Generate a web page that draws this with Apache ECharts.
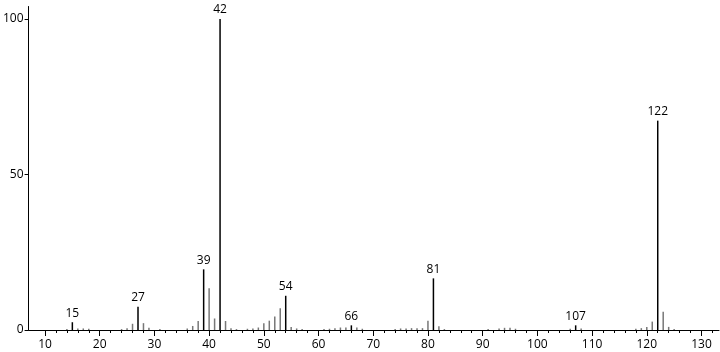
<!DOCTYPE html>
<html>
<head>
<meta charset="utf-8">
<script src="https://cdn.jsdelivr.net/npm/echarts@6/dist/echarts.min.js"></script>
<style>html,body{margin:0;padding:0;background:#fff}#c{width:720px;height:352px}</style>
</head>
<body>
<div id="c"></div>
<script>
const masses = [14,16,17,18,24,25,26,27,28,29,31,36,37,38,39,40,41,42,43,44,45,47,48,49,50,51,52,53,54,55,56,57,61,62,63,64,65,66,67,68,74,75,76,77,78,79,80,81,82,83,91,93,94,95,96,106,107,108,118,119,120,121,122,123,124,125];
const intensities = [0.3,0.5,0.5,0.4,0.3,0.6,2,7.5,2.2,0.7,0.3,0.5,1.3,2.9,19.5,13.4,3.7,100,2.9,0.6,0.3,0.4,0.5,0.8,2.2,3,4.3,7,11,1,0.5,0.3,0.3,0.4,0.6,0.8,0.8,1.5,0.8,0.4,0.3,0.5,0.5,0.6,0.6,0.6,3,16.6,1.2,0.3,0.3,0.5,0.7,0.7,0.4,0.4,1.5,0.5,0.4,0.6,1.0,2.7,67.3,5.9,1,0.3];
const labeledPeaks = [15,27,39,42,54,66,81,107,122];
const labeledValues = [2.5,7.5,19.5,100,11,1.5,16.6,1.5,67.3];
const xLabels = [10,20,30,40,50,60,70,80,90,100,110,120,130];
const xMinorTicks = [12,14,16,18,22,24,26,28,32,34,36,38,42,44,46,48,52,54,56,58,62,64,66,68,72,74,76,78,82,84,86,88,92,94,96,98,102,104,106,108,112,114,116,118,122,124,126,128,132];
const yLabels = [0,50,100];

// merge: labeled peaks override
const peaks = [];
masses.forEach((m,i)=>{ if(!labeledPeaks.includes(m)) peaks.push([m,intensities[i],0]); });
labeledPeaks.forEach((m,i)=>peaks.push([m,labeledValues[i],1]));

const font = '"Open Sans", "DejaVu Sans", sans-serif';
const chart = echarts.init(document.getElementById('c'), null, {renderer:'canvas'});
chart.setOption({
  animation:false,
  backgroundColor:'#fff',
  grid:{left:27, right:1, top:6.5, bottom:22, containLabel:false},
  xAxis:[{
    type:'value', min:7, max:133.2,
    axisLine:{show:true, lineStyle:{color:'#000', width:1}},
    axisTick:{show:true, customValues:xLabels, length:6, lineStyle:{color:'#000'}},
    axisLabel:{show:true, customValues:xLabels, color:'#000', fontSize:12, fontFamily:font, margin:9},
    splitLine:{show:false}
  },{
    type:'value', min:7, max:133.2, position:'bottom',
    axisLine:{show:false},
    axisTick:{show:true, customValues:xMinorTicks, length:3, lineStyle:{color:'#000'}},
    axisLabel:{show:false},
    splitLine:{show:false}
  }],
  yAxis:{
    type:'value', min:0, max:104,
    axisLine:{show:true, lineStyle:{color:'#000', width:1}},
    axisTick:{show:true, customValues:yLabels, length:4, lineStyle:{color:'#000'}},
    axisLabel:{show:true, customValues:yLabels, color:'#000', fontSize:12, fontFamily:font, margin:5},
    splitLine:{show:false}
  },
  series:[{
    type:'custom',
    xAxisIndex:0,
    data:peaks,
    renderItem:function(params, api){
      const m = api.value(0), v = api.value(1), lab = api.value(2);
      const p0 = api.coord([m,0]);
      const p1 = api.coord([m,v]);
      const children = [{
        type:'line',
        shape:{x1:p0[0], y1:p0[1], x2:p1[0], y2:p1[1]},
        style:{stroke: lab ? '#000' : '#777', lineWidth: lab ? 1.5 : 1.5}
      }];
      if(lab){
        children.push({
          type:'text',
          style:{text:String(m), x:p1[0], y:p1[1]-3, align:'center', verticalAlign:'bottom', fill:'#000', font:'12px ' + font}
        });
      }
      return {type:'group', children:children};
    }
  }]
});
</script>
</body>
</html>
